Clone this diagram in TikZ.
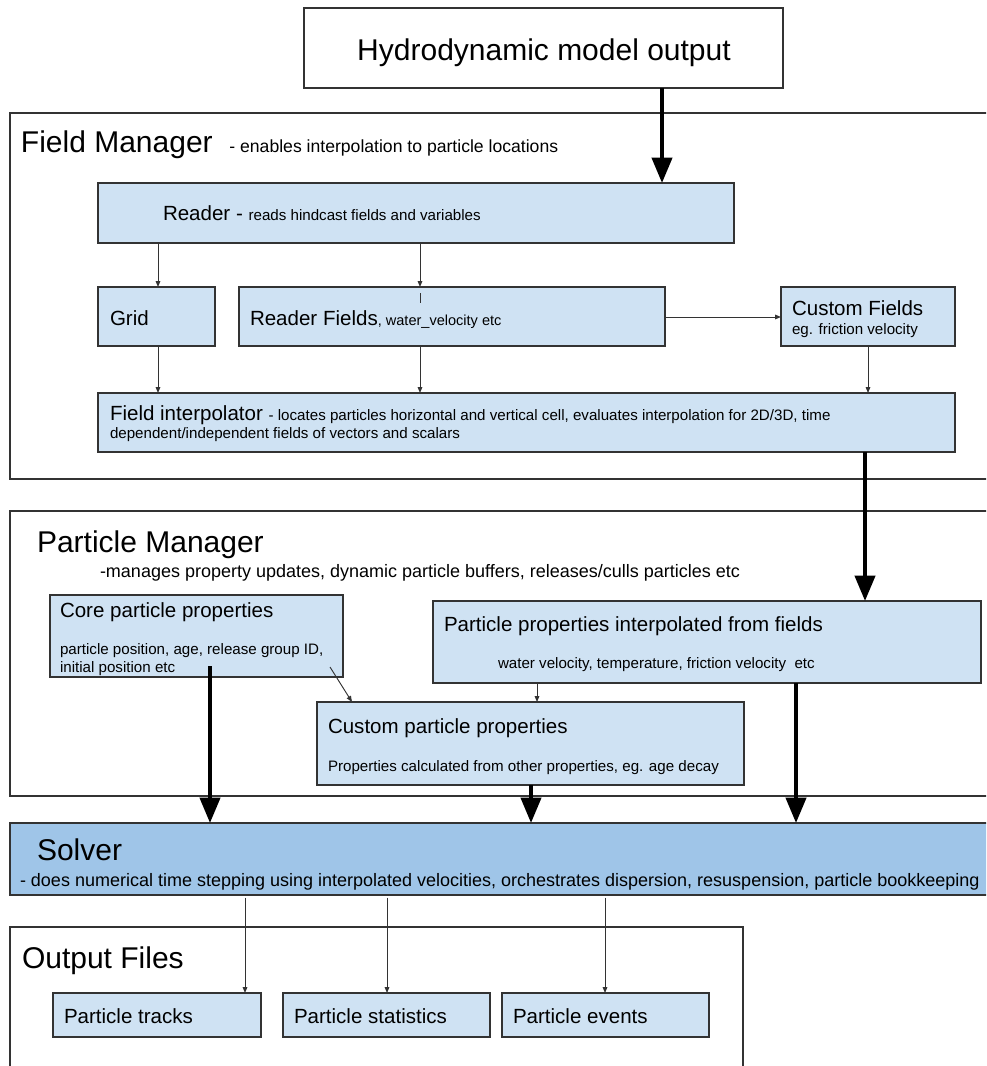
\documentclass[tikz,border=0pt]{standalone}
\usepackage{fontspec}
\setmainfont{Liberation Sans}
\usetikzlibrary{arrows.meta,fit,calc}
\definecolor{boxblue}{HTML}{CFE2F3}
\definecolor{solverblue}{HTML}{9FC5E8}
\definecolor{edgegray}{HTML}{333333}
\newcommand{\fsBig}{\fontsize{22.5}{27}\selectfont}
\newcommand{\fsMid}{\fontsize{15.4}{18}\selectfont}
\newcommand{\fsSub}{\fontsize{13.5}{16}\selectfont}
\newcommand{\fsSubA}{\fontsize{13.2}{16}\selectfont}
\newcommand{\fsSmall}{\fontsize{11.35}{13.5}\selectfont}
\newcommand{\fsTiny}{\fontsize{10.9}{13}\selectfont}
\begin{document}
\begin{tikzpicture}[x=0.75pt,y=-0.75pt,
  box/.style={draw=edgegray, line width=0.8pt, fill=boxblue, inner sep=0pt, outer sep=0pt, rectangle},
  sbox/.style={draw=edgegray, line width=0.8pt, fill=solverblue, inner sep=0pt, outer sep=0pt, rectangle},
  framebox/.style={draw=edgegray, line width=0.8pt, inner sep=0pt, outer sep=0pt, rectangle},
  txt/.style={anchor=base west, inner sep=0pt, outer sep=0pt, text=black},
  thinarrow/.style={draw=edgegray, line width=0.7pt, -{Triangle[length=4.5pt,width=3.5pt]}},
  thickarrow/.style={draw=black, line width=3pt, -{Triangle[length=19pt,width=15pt]}},
]
\useasboundingbox (0,0) rectangle (986,1066);
\clip (0,0) rectangle (986,1066);
\fill[white] (0,0) rectangle (986,1066);

% x positions of connectors
\coordinate (x158) at (158,0);
\coordinate (x420) at (420,0);
\coordinate (x868) at (868,0);
\coordinate (x662) at (662,0);
\coordinate (x865) at (865,0);
\coordinate (x537) at (537,0);
\coordinate (x352) at (352,0);
\coordinate (x210) at (210,0);
\coordinate (x531) at (531,0);
\coordinate (x796) at (796,0);
\coordinate (x245) at (245,0);
\coordinate (x387) at (387,0);
\coordinate (x605) at (605,0);
\coordinate (y317) at (0,317);

% containers
\node[framebox, fit={(304,8) (783,88)}] (hydro) {};
\node[framebox, fit={(10,113) (1000,479)}] (fm) {};
\node[framebox, fit={(10,511) (1000,796)}] (pm) {};
\node[framebox, fit={(10,927) (743,1080)}] (of) {};

% field manager boxes
\node[box, fit={(98,183) (734,243)}] (reader) {};
\node[box, fit={(98,287) (215,346)}] (grid) {};
\node[box, fit={(239,287) (665,346)}] (rfields) {};
\node[box, fit={(781,287) (955,346)}] (cfields) {};
\node[box, fit={(98,393) (955,452)}] (finterp) {};

% particle manager boxes
\node[box, fit={(50,595) (343,677)}] (core) {};
\node[box, fit={(433,601) (981,683)}] (ppi) {};
\node[box, fit={(317,702) (744,785)}] (cpp) {};

% solver
\node[sbox, fit={(10,823) (1000,895)}] (solver) {};

% outputs
\node[box, fit={(53,993) (261,1037)}] (tracks) {};
\node[box, fit={(283,993) (490,1037)}] (stats) {};
\node[box, fit={(502,993) (709,1037)}] (events) {};

% texts
\node[anchor=base, inner sep=0pt] (hydrot) at (544,61) {\fsBig Hydrodynamic model output};
\node[txt] (fmt) at (21,153) {\fsBig Field Manager\ \ {\fsSubA - enables interpolation to particle locations}};
\node[txt] (readert) at (163,220) {\fsMid Reader - {\fsSmall reads hindcast fields and variables}};
\node[txt] (gridt) at (110,325) {\fsMid Grid};
\node[txt] (rfieldst) at (250,325) {\fsMid Reader Fields{\fsTiny , water\_velocity etc}};
\node[txt] (cfieldst) at (792,315) {\fsMid Custom Fields};
\node[txt] (cfieldst2) at (792,334) {\fsSmall eg. friction velocity};
\node[txt] (finterpt) at (110,420) {\fsMid Field interpolator {\fsSmall - locates particles horizontal and vertical cell, evaluates interpolation for 2D/3D, time}};
\node[txt] (finterpt2) at (110,438) {\fsSmall dependent/independent fields of vectors and scalars};

\node[txt] (pmt) at (37,552) {\fsBig Particle Manager};
\node[txt] (pmt2) at (100,577) {\fsSub -manages property updates, dynamic particle buffers, releases/culls particles etc};
\node[txt] (coret) at (60,617) {\fsMid Core particle properties};
\node[txt] (coret2) at (60,654) {\fsSmall particle position, age, release group ID,};
\node[txt] (coret3) at (60,672) {\fsSmall initial position etc};
\node[txt] (ppit) at (444,631) {\fsMid Particle properties interpolated from fields};
\node[txt] (ppit2) at (498,668) {\fsSmall water velocity, temperature, friction velocity\ \ etc};
\node[txt] (cppt) at (328,733) {\fsMid Custom particle properties};
\node[txt] (cppt2) at (328,771) {\fsSmall Properties calculated from other properties, eg. age decay};

\node[txt] (solvert) at (37,860) {\fsBig Solver};
\node[txt] (solvert2) at (20,886) {\fsSub - does numerical time stepping using interpolated velocities, orchestrates dispersion, resuspension, particle bookkeeping};

\node[txt] (oft) at (22,968) {\fsBig Output Files};
\node[txt] (trackst) at (64,1023) {\fsMid Particle tracks};
\node[txt] (statst) at (294,1023) {\fsMid Particle statistics};
\node[txt] (eventst) at (513,1023) {\fsMid Particle events};

% thin connectors
\draw[thinarrow] (reader.south -| x158) -- (grid.north -| x158);
\draw[thinarrow] (reader.south -| x420) -- (rfields.north -| x420);
\draw[edgegray, line width=0.4pt] ($(rfields.north -| x420)+(0,6)$) -- ($(rfields.north -| x420)+(0,16)$);
\draw[thinarrow] (grid.south -| x158) -- (finterp.north -| x158);
\draw[thinarrow] (rfields.south -| x420) -- (finterp.north -| x420);
\draw[thinarrow] (cfields.south -| x868) -- (finterp.north -| x868);
\draw[thinarrow] (rfields.east |- y317) -- (cfields.west |- y317);

\coordinate (coreout) at (330,667);
\coordinate (coredown) at (210,666);
\draw[thinarrow] (coreout) -- (cpp.north -| x352);
\draw[thinarrow] (ppi.south -| x537) -- (cpp.north -| x537);

\draw[thinarrow, shorten <=2pt] (solver.south -| x245) -- (tracks.north -| x245);
\draw[thinarrow, shorten <=2pt] (solver.south -| x387) -- (stats.north -| x387);
\draw[thinarrow, shorten <=2pt] (solver.south -| x605) -- (events.north -| x605);

% thick connectors
\draw[thickarrow] (hydro.south -| x662) -- (reader.north -| x662);
\draw[thickarrow] (finterp.south -| x865) -- (ppi.north -| x865);
\draw[thickarrow] (coredown) -- (solver.north -| x210);
\draw[thickarrow] (cpp.south -| x531) -- (solver.north -| x531);
\draw[thickarrow] (ppi.south -| x796) -- (solver.north -| x796);
\end{tikzpicture}
\end{document}
